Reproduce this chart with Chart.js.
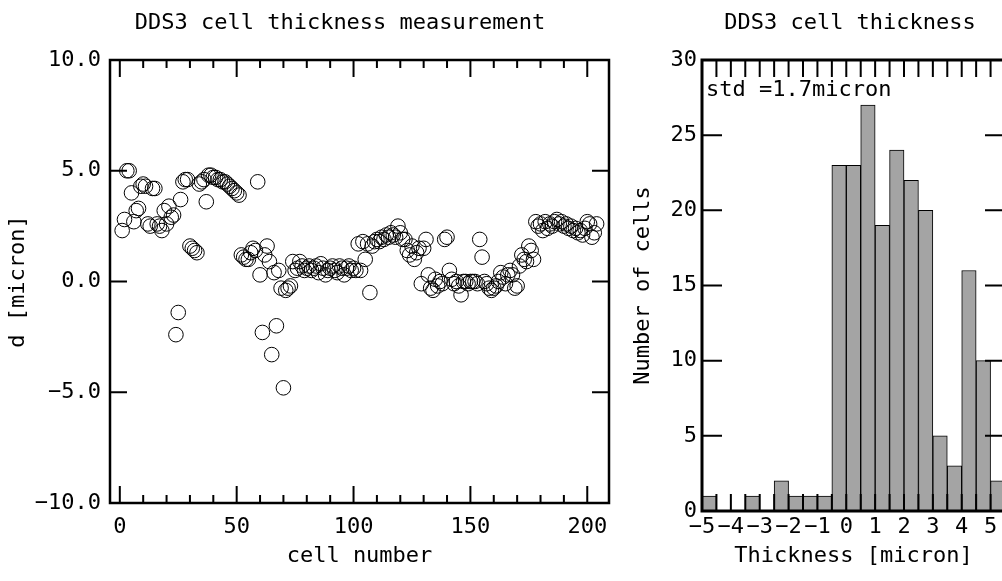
<!DOCTYPE html>
<html>
<head>
<meta charset="utf-8">
<script src="https://cdn.jsdelivr.net/npm/chart.js@4/dist/chart.umd.min.js"></script>
<style>
	html, body { margin: 0; padding: 0; background: #fff; overflow: hidden; width: 1002px; height: 581px; }
	#cellChart { position: absolute; left: 0; top: 0; }
	#histChart { position: absolute; left: 620px; top: 0; }
</style>
</head>
<body>
<canvas id="cellChart" width="620" height="581"></canvas>
<canvas id="histChart" width="440" height="581"></canvas>
<script>
// d [micron] for cell 1, 2, 3 ...
var cellThickness = [
	2.3, 2.8, 5.0, 5.0, 4.0, 2.7, 3.2, 3.3, 4.3, 4.4,
	4.3, 2.6, 2.5, 4.2, 4.2, 2.6, 2.5, 2.3, 3.2, 2.6,
	3.4, 2.9, 3.0, -2.4, -1.4, 3.7, 4.5, 4.6, 4.6, 1.6,
	1.5, 1.4, 1.3, 4.4, 4.5, 4.6, 3.6, 4.8, 4.8, 4.7,
	4.7, 4.6, 4.6, 4.5, 4.5, 4.4, 4.3, 4.2, 4.1, 4.0,
	3.9, 1.2, 1.1, 1.0, 1.0, 1.3, 1.5, 1.4, 4.5, 0.3,
	-2.3, 1.2, 1.6, 0.9, -3.3, 0.4, -2.0, 0.5, -0.3, -4.8,
	-0.4, -0.3, -0.2, 0.9, 0.5, 0.6, 0.9, 0.7, 0.5, 0.6,
	0.7, 0.5, 0.6, 0.7, 0.4, 0.8, 0.6, 0.3, 0.5, 0.6,
	0.7, 0.5, 0.4, 0.7, 0.6, 0.3, 0.6, 0.7, 0.5, 0.6,
	0.5, 1.7, 0.5, 1.8, 1.0, 1.7, -0.5, 1.6, 1.8, 1.9,
	1.8, 2.0, 1.9, 2.1, 2.0, 2.2, 2.1, 2.0, 2.5, 2.2,
	1.9, 1.9, 1.4, 1.2, 1.6, 1.0, 1.3, 1.5, -0.1, 1.5,
	1.9, 0.3, -0.3, -0.4, 0.1, -0.2, 0.0, -0.1, 1.9, 2.0,
	0.5, 0.1, -0.1, 0.0, -0.2, -0.6, 0.0, 0.0, -0.1, 0.0,
	0.0, 0.0, -0.1, 1.9, 1.1, 0.0, -0.1, -0.3, -0.4, -0.3,
	-0.2, 0.0, 0.4, 0.2, -0.1, 0.3, 0.5, 0.3, -0.3, -0.2,
	0.7, 1.2, 1.0, 0.9, 1.6, 1.4, 1.0, 2.7, 2.5, 2.6,
	2.3, 2.7, 2.4, 2.6, 2.5, 2.7, 2.8, 2.6, 2.7, 2.5,
	2.6, 2.4, 2.5, 2.3, 2.4, 2.2, 2.3, 2.1, 2.4, 2.7,
	2.6, 2.0, 2.2, 2.6
];

// histogram, 0.5 micron bins
var binStarts = [-5.0, -4.5, -4.0, -3.5, -3.0, -2.5, -2.0, -1.5, -1.0, -0.5, 0.0, 0.5, 1.0, 1.5, 2.0, 2.5, 3.0, 3.5, 4.0, 4.5, 5.0];
var binCounts = [1, 0, 0, 1, 0, 2, 1, 1, 1, 23, 23, 27, 19, 24, 22, 20, 5, 3, 16, 10, 2];
var binWidth = 0.5;

var cellTicks = [0, 50, 100, 150, 200];
var dTicks = [-10, -5, 0, 5, 10];
var thickTicks = [-5, -4, -3, -2, -1, 0, 1, 2, 3, 4, 5];
var countTicks = [0, 5, 10, 15, 20, 25, 30];

var FONT = "'DejaVu Sans Mono', 'Liberation Mono', monospace";
Chart.defaults.font.family = FONT;
Chart.defaults.font.size = 22;
Chart.defaults.color = '#000';

function minusSign(s) {
	return String(s).replace('-', '\u2212');
}

function fixedTicks(values) {
	return function (scale) {
		scale.ticks = values.map(function (v) { return { value: v }; });
	};
}

// Box frame with inward tick marks on all four sides + panel texts
var frameTicks = {
	id: 'frameTicks',
	afterDraw: function (chart, args, opts) {
		var ctx = chart.ctx;
		var a = chart.chartArea;
		var xs = chart.scales.x, ys = chart.scales.y;
		ctx.save();
		ctx.strokeStyle = '#000';
		ctx.lineWidth = opts.tickWidth;
		ctx.beginPath();
		opts.xTicks.forEach(function (t) {
			var px = xs.getPixelForValue(t.value);
			ctx.moveTo(px, a.bottom); ctx.lineTo(px, a.bottom - t.len);
			ctx.moveTo(px, a.top); ctx.lineTo(px, a.top + t.len);
		});
		opts.yTicks.forEach(function (t) {
			var py = ys.getPixelForValue(t.value);
			ctx.moveTo(a.left, py); ctx.lineTo(a.left + t.len, py);
			ctx.moveTo(a.right, py); ctx.lineTo(a.right - t.len, py);
		});
		ctx.stroke();
		ctx.lineWidth = opts.frameWidth;
		ctx.strokeRect(a.left, a.top, a.right - a.left, a.bottom - a.top);

		ctx.fillStyle = '#000';
		ctx.font = '22px ' + FONT;
		ctx.textBaseline = 'middle';
		ctx.textAlign = 'center';
		ctx.fillText(opts.title, opts.titleX, opts.titleY);
		if (opts.note) {
			ctx.textAlign = 'left';
			ctx.fillText(opts.note, a.left + 4, opts.noteY);
		}
		ctx.restore();
	}
};

/** ----------------- SCATTER ----------------- **/

var cellPoints = cellThickness.map(function (d, i) {
	return { x: i + 1, y: d };
});

var cellXMarks = [];
for (var c = 0; c <= 200; c += 10) {
	cellXMarks.push({ value: c, len: c % 50 === 0 ? 17 : 8 });
}

new Chart(document.getElementById('cellChart'), {
	type: 'scatter',
	data: {
		datasets: [{
			data: cellPoints,
			pointStyle: 'circle',
			pointRadius: 7.3,
			pointBorderWidth: 1,
			borderColor: '#000',
			backgroundColor: 'rgba(0,0,0,0)'
		}]
	},
	plugins: [frameTicks],
	options: {
		responsive: false,
		animation: false,
		devicePixelRatio: 1,
		layout: { padding: { left: 0, right: 11, top: 60, bottom: 0 } },
		plugins: {
			legend: { display: false },
			tooltip: { enabled: false },
			frameTicks: {
				title: 'DDS3 cell thickness measurement',
				titleX: 340, titleY: 23,
				frameWidth: 2.5, tickWidth: 2,
				xTicks: cellXMarks,
				yTicks: dTicks.map(function (v) { return { value: v, len: 17 }; })
			}
		},
		scales: {
			x: {
				type: 'linear',
				min: -4.2, max: 209.3,
				afterBuildTicks: fixedTicks(cellTicks),
				afterFit: function (s) { s.height = 78; },
				grid: { display: false, drawTicks: false },
				border: { display: false },
				ticks: { padding: 11, maxRotation: 0, autoSkip: false },
				title: { display: true, text: 'cell number', padding: { top: 0, bottom: 12 } }
			},
			y: {
				type: 'linear',
				min: -10, max: 10,
				afterBuildTicks: fixedTicks(dTicks),
				afterFit: function (s) { s.width = 110; },
				grid: { display: false, drawTicks: false },
				border: { display: false },
				ticks: {
					padding: 9,
					callback: function (v) { return minusSign(v.toFixed(1)); }
				},
				title: { display: true, text: 'd [micron]', padding: { top: 5, bottom: 0 } }
			}
		}
	}
});

/** ----------------- HISTOGRAM ----------------- **/

var binBars = binStarts.map(function (s, i) {
	return { x: s + binWidth / 2, y: binCounts[i] };
});

new Chart(document.getElementById('histChart'), {
	type: 'bar',
	data: {
		datasets: [{
			data: binBars,
			backgroundColor: '#a4a4a4',
			borderColor: '#000',
			borderWidth: 1,
			borderSkipped: false,
			barPercentage: 1,
			categoryPercentage: 1
		}]
	},
	plugins: [frameTicks],
	options: {
		responsive: false,
		animation: false,
		devicePixelRatio: 1,
		layout: { padding: { left: 0, right: 55, top: 60, bottom: 0 } },
		plugins: {
			legend: { display: false },
			tooltip: { enabled: false },
			frameTicks: {
				title: 'DDS3 cell thickness',
				titleX: 230, titleY: 23,
				note: 'std =1.7micron', noteY: 90,
				frameWidth: 3, tickWidth: 2,
				xTicks: binStarts.map(function (v) { return { value: v, len: 17 }; }),
				yTicks: countTicks.map(function (v) { return { value: v, len: 20 }; })
			}
		},
		scales: {
			x: {
				type: 'linear',
				min: -5, max: 5.5,
				offset: false,
				afterBuildTicks: fixedTicks(thickTicks),
				afterFit: function (s) { s.height = 70; },
				grid: { display: false, drawTicks: false, offset: false },
				border: { display: false },
				ticks: {
					padding: 3, maxRotation: 0, autoSkip: false,
					callback: function (v) { return minusSign(v); }
				},
				title: { display: true, text: 'Thickness [micron]', padding: { top: 0, bottom: 12 } }
			},
			y: {
				type: 'linear',
				min: 0, max: 30,
				afterBuildTicks: fixedTicks(countTicks),
				afterFit: function (s) { s.width = 82; },
				grid: { display: false, drawTicks: false },
				border: { display: false },
				ticks: { padding: 5 },
				title: { display: true, text: 'Number of cells', padding: { top: 10, bottom: 0 } }
			}
		}
	}
});
</script>
</body>
</html>
